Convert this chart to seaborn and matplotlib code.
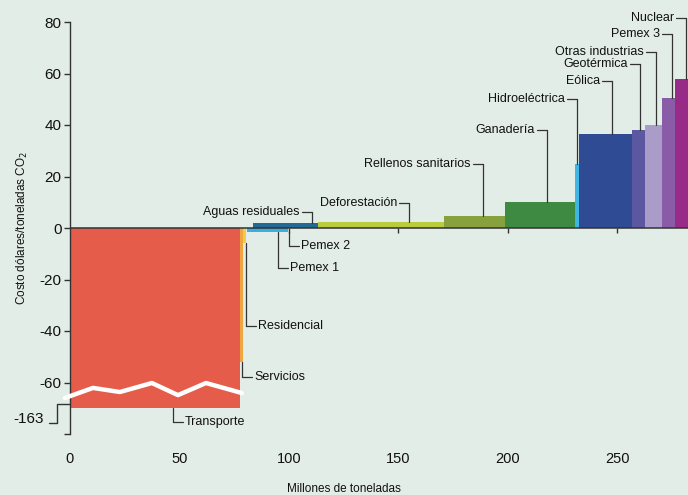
import matplotlib
matplotlib.use("Agg")
import matplotlib.pyplot as plt
import matplotlib.transforms as mtransforms
import seaborn as sns

# %%
names = ["Transporte", "Servicios", "Residencial", "Pemex 1", "Pemex 2",
         "Aguas residuales", "Deforestación", "Rellenos sanitarios", "Ganadería",
         "Hidroeléctrica", "Eólica", "Geotérmica", "Otras industrias", "Pemex 3", "Nuclear"]
starts = [0, 77.6, 79.0, 81.0, 97.0, 83.5, 113.2, 170.8, 198.6, 230.6, 232.4, 256.6, 262.6, 270.3, 276.3]
widths = [77.6, 1.4, 1.4, 16.0, 2.5, 29.7, 57.6, 27.8, 32.0, 1.8, 24.2, 6.0, 7.7, 6.0, 6.5]
costs = [-70, -52, -6, -1.5, -1.5, 2, 2.3, 4.7, 10.1, 25, 36.5, 38, 40, 50.5, 58]
colors = ["#e55c4a", "#f0a640", "#f7c94a", "#3aaee0", "#3aaee0", "#226a94", "#b8cc3c",
          "#87a13e", "#3f8a43", "#3eb5e5", "#2e4b94", "#5b57a0", "#a99cc9", "#8a5ba6", "#992b88"]

# leader line positions for the labels
leader_x = [47, 78.6, 80.4, 95, 100, 110.5, 154.8, 188.6, 217.8, 231.5, 247.5, 260.3, 267.6, 274.9, 281.3]
label_y = [-75.5, -58, -38, -15.5, -7, 6.2, 9.7, 24.9, 38, 50, 57, 63.7, 68.3, 75.3, 81.5]

# axis break on the transport bar (real value -163)
break_x = [-2.3, 10.5, 22.8, 37.4, 49.3, 62.1, 78.5]
break_y = [-66, -62.1, -63.7, -60.2, -64.9, -60.2, -64.1]

x_ticks = [0, 50, 100, 150, 200, 250]
y_ticks = [-80, -60, -40, -20, 0, 20, 40, 60, 80]

# %%
sns.set_style("white")
plt.rcParams['font.family'] = ['Liberation Sans', 'DejaVu Sans']
bg = "#e3ede7"
ink = "#333333"

fig = plt.figure(figsize=(6.88, 4.95), dpi=100, facecolor=bg)
ax = fig.add_axes([70 / 688, 1 - 434 / 495, 618 / 688, 412 / 495])
ax.set_facecolor(bg)

ax.bar(starts, costs, width=widths, align='edge', color=colors, linewidth=0, zorder=2)
ax.plot(break_x, break_y, color='white', lw=3.2, clip_on=False, zorder=4)
ax.axhline(0, color=ink, lw=1.1, zorder=3)
# x ticks sit on the zero line, under the bars
ax.vlines(x_ticks[1:], -2.0, 0, color=ink, lw=1, zorder=1)

ax.set_xlim(0, 282.2)
ax.set_ylim(-80, 80)

sns.despine(ax=ax, top=True, right=True, bottom=True)
ax.spines['left'].set_color(ink)
ax.spines['left'].set_linewidth(1)

ax.set_yticks(y_ticks)
ax.set_yticklabels(['' if t == -80 else str(t) for t in y_ticks])
ax.tick_params(axis='y', left=True, direction='out', length=4, width=1, color=ink,
               labelsize=11, pad=2, labelcolor='#111111')
ax.set_xticks(x_ticks)
ax.tick_params(axis='x', bottom=False, length=0, labelsize=10.5, pad=13, labelcolor='#111111')

# -163 label with break marker
trans = mtransforms.blended_transform_factory(ax.transAxes, ax.transData)
ax.text(-0.042, -74, "-163", transform=trans, ha='right', va='center', fontsize=11, color='#111111')
ax.plot([-0.034, -0.021, -0.021, 0], [-75.7, -75.7, -68.3, -68.3], transform=trans,
        color=ink, lw=1, clip_on=False)

# labels with elbow leaders
for name, lx, ly, cost in zip(names, leader_x, label_y, costs):
    ax.plot([lx, lx], [cost, ly], color=ink, lw=0.9, clip_on=False, zorder=3)
    if ly > 0:
        ax.plot([lx - 4.5, lx], [ly, ly], color=ink, lw=0.9, clip_on=False, zorder=3)
        ax.text(lx - 5.5, ly, name, ha='right', va='center', fontsize=9, color='#111111')
    else:
        ax.plot([lx, lx + 4.5], [ly, ly], color=ink, lw=0.9, clip_on=False, zorder=3)
        ax.text(lx + 5.5, ly, name, ha='left', va='center', fontsize=9, color='#111111')

ax.set_ylabel("Costo dólares/toneladas CO$_2$", fontsize=8.5, color='#111111')
ax.yaxis.set_label_coords(-0.064, 0.5)
ax.text(0.443, -0.134, "Millones de toneladas", transform=ax.transAxes,
        ha='center', va='center', fontsize=8.5, color='#111111')

fig.savefig("out.png", dpi=100, facecolor=bg)
